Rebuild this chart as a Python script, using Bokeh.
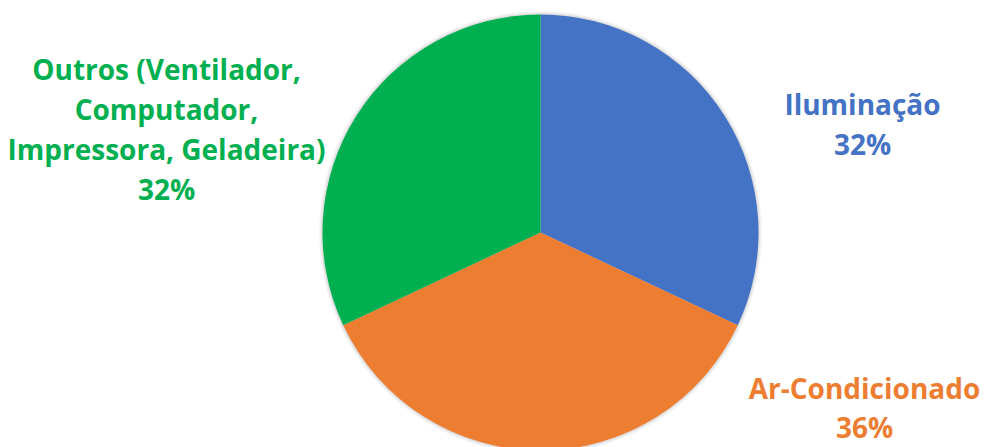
import numpy as np
from bokeh.plotting import figure
from bokeh.models import Range1d
from bokeh.core.properties import value
from bokeh.embed import file_html
from bokeh.resources import INLINE

categories = ["Iluminação", "Ar-Condicionado", "Outros (Ventilador,\nComputador,\nImpressora, Geladeira)"]
values = [32, 36, 32]
colors = ["#4472C4", "#ED7D31", "#00B050"]

W, H = 986, 447
p = figure(width=W, height=H, output_backend="svg", toolbar_location=None,
           x_range=Range1d(0, W), y_range=Range1d(0, H), min_border=0)
p.axis.visible = False
p.grid.visible = False
p.outline_line_color = None
p.background_fill_color = "white"

cx, cy, r = 540, H - 232, 218

# soft shadow
for i, a in enumerate([0.05, 0.04, 0.03, 0.02]):
    p.circle(x=[cx], y=[cy], radius=r + 1 + i, fill_color="black", fill_alpha=a, line_color=None)

vals = np.array(values, dtype=float)
frac = vals / vals.sum()
cum = np.concatenate([[0], np.cumsum(frac)])
start = np.pi / 2 - cum[:-1] * 2 * np.pi
end = np.pi / 2 - cum[1:] * 2 * np.pi
p.wedge(x=cx, y=cy, radius=r, start_angle=start, end_angle=end, direction="clock",
        fill_color=colors, line_color=None)

# label positions: block center x and first-line middle (pixels from top)
label_pos = [(862, 103), (864, 387), (166, 68)]
line_h = [40, 39, 40.3]
for name, v, c, (lx, ly), lh in zip(categories, values, colors, label_pos, line_h):
    lines = name.split("\n") + [f"{v}%"]
    xs = [lx] * len(lines)
    ys = [H - (ly + i * lh) for i in range(len(lines))]
    p.text(x=xs, y=ys, text=lines, text_color=c, text_font=value("Open Sans"),
           text_font_style="bold", text_font_size="28px", text_align="center",
           text_baseline="middle")

open("out.html", "w").write(file_html(p, INLINE))
